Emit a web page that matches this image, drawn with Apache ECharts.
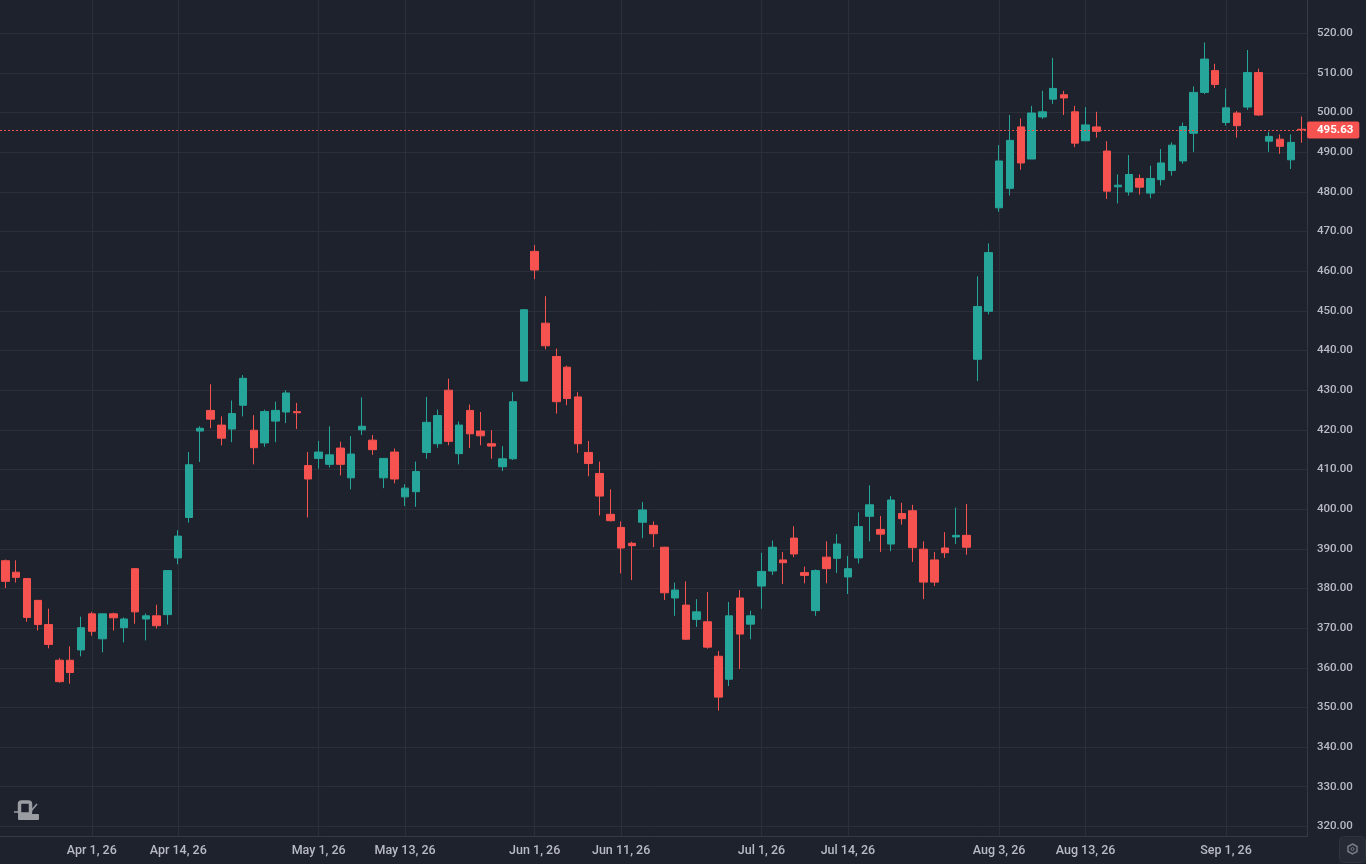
<!DOCTYPE html>
<html>
<head>
<meta charset="utf-8">
<title>Candles</title>
<style>
  html, body { margin: 0; padding: 0; background: #1e222d; }
  #chart { width: 1366px; height: 864px; }
</style>
<script src="https://cdn.jsdelivr.net/npm/echarts@6/dist/echarts.min.js"></script>
</head>
<body>
<div id="chart"></div>
<script>
// trading days, left to right
const dates = [
  'Mar 20, 26', 'Mar 23, 26', 'Mar 24, 26', 'Mar 25, 26', 'Mar 26, 26', 'Mar 27, 26', 'Mar 30, 26', 'Mar 31, 26',
  'Apr 1, 26', 'Apr 2, 26', 'Apr 6, 26', 'Apr 7, 26', 'Apr 8, 26', 'Apr 9, 26', 'Apr 10, 26', 'Apr 13, 26',
  'Apr 14, 26', 'Apr 15, 26', 'Apr 16, 26', 'Apr 17, 26', 'Apr 20, 26', 'Apr 21, 26', 'Apr 22, 26', 'Apr 23, 26',
  'Apr 24, 26', 'Apr 27, 26', 'Apr 28, 26', 'Apr 29, 26', 'Apr 30, 26', 'May 1, 26', 'May 4, 26', 'May 5, 26',
  'May 6, 26', 'May 7, 26', 'May 8, 26', 'May 11, 26', 'May 12, 26', 'May 13, 26', 'May 14, 26', 'May 15, 26',
  'May 18, 26', 'May 19, 26', 'May 20, 26', 'May 21, 26', 'May 22, 26', 'May 26, 26', 'May 27, 26', 'May 28, 26',
  'May 29, 26', 'Jun 1, 26', 'Jun 2, 26', 'Jun 3, 26', 'Jun 4, 26', 'Jun 5, 26', 'Jun 8, 26', 'Jun 9, 26',
  'Jun 10, 26', 'Jun 11, 26', 'Jun 12, 26', 'Jun 15, 26', 'Jun 16, 26', 'Jun 17, 26', 'Jun 18, 26', 'Jun 22, 26',
  'Jun 23, 26', 'Jun 24, 26', 'Jun 25, 26', 'Jun 26, 26', 'Jun 29, 26', 'Jun 30, 26', 'Jul 1, 26', 'Jul 2, 26',
  'Jul 6, 26', 'Jul 7, 26', 'Jul 8, 26', 'Jul 9, 26', 'Jul 10, 26', 'Jul 13, 26', 'Jul 14, 26', 'Jul 15, 26',
  'Jul 16, 26', 'Jul 17, 26', 'Jul 20, 26', 'Jul 21, 26', 'Jul 22, 26', 'Jul 23, 26', 'Jul 24, 26', 'Jul 27, 26',
  'Jul 28, 26', 'Jul 29, 26', 'Jul 30, 26', 'Jul 31, 26', 'Aug 3, 26', 'Aug 4, 26', 'Aug 5, 26', 'Aug 6, 26',
  'Aug 7, 26', 'Aug 10, 26', 'Aug 11, 26', 'Aug 12, 26', 'Aug 13, 26', 'Aug 14, 26', 'Aug 17, 26', 'Aug 18, 26',
  'Aug 19, 26', 'Aug 20, 26', 'Aug 21, 26', 'Aug 24, 26', 'Aug 25, 26', 'Aug 26, 26', 'Aug 27, 26', 'Aug 28, 26',
  'Aug 31, 26', 'Sep 1, 26', 'Sep 2, 26', 'Sep 3, 26', 'Sep 4, 26', 'Sep 8, 26', 'Sep 9, 26', 'Sep 10, 26',
  'Sep 11, 26'
];

const opens = [
  387.0, 384.1, 382.5, 377.0, 370.9, 361.9, 361.9, 364.5, 373.6, 367.3, 373.6, 370.1, 385.0, 372.3, 373.1, 373.4,
  387.7, 397.9, 419.7, 424.9, 421.2, 420.2, 426.2, 419.9, 416.7, 422.2, 424.5, 424.6, 411.0, 412.8, 411.3, 415.4,
  407.9, 420.0, 417.4, 407.9, 414.4, 403.1, 404.4, 414.3, 416.5, 430.0, 414.0, 424.9, 419.7, 416.5, 410.7, 412.7,
  432.3, 465.0, 446.9, 438.5, 435.8, 428.3, 414.3, 409.0, 398.7, 395.4, 391.4, 396.7, 395.9, 390.4, 377.6, 375.8,
  372.2, 371.6, 362.9, 357.1, 377.6, 371.0, 380.6, 384.4, 387.2, 392.7, 384.0, 374.4, 387.9, 387.6, 382.9, 387.7,
  398.2, 394.9, 391.2, 398.9, 399.6, 389.9, 387.2, 390.2, 393.0, 393.4, 437.8, 449.9, 476.0, 480.9, 496.4, 488.3,
  498.9, 503.4, 504.5, 500.2, 492.9, 496.4, 490.3, 481.3, 480.0, 483.4, 479.7, 483.1, 485.4, 487.8, 494.8, 505.1,
  510.6, 497.5, 499.9, 501.4, 510.1, 492.8, 493.3, 488.1, 495.8
];

const closes = [
  381.8, 382.8, 372.7, 370.9, 365.9, 356.5, 358.8, 370.1, 369.2, 373.6, 372.6, 372.3, 374.1, 373.1, 370.6, 384.5,
  393.2, 411.2, 420.4, 422.7, 417.9, 424.1, 433.0, 415.5, 424.6, 424.9, 429.3, 424.3, 407.6, 414.4, 413.7, 411.3,
  413.9, 420.9, 415.0, 412.8, 407.6, 405.3, 409.5, 421.9, 423.6, 417.1, 421.2, 419.0, 418.5, 415.9, 412.7, 427.1,
  450.3, 460.3, 441.2, 427.1, 427.9, 416.5, 411.5, 403.3, 397.1, 390.2, 390.8, 399.8, 393.8, 378.9, 379.6, 367.2,
  374.1, 365.2, 352.6, 373.1, 368.5, 373.1, 384.3, 390.4, 386.5, 388.7, 383.3, 384.5, 385.0, 391.2, 385.0, 395.6,
  401.1, 393.7, 402.3, 397.6, 390.3, 381.6, 381.6, 389.0, 393.4, 390.4, 451.1, 464.7, 487.8, 493.0, 487.3, 499.9,
  500.2, 506.1, 503.7, 492.3, 496.9, 495.3, 480.2, 481.7, 484.4, 481.2, 483.4, 487.3, 491.8, 496.5, 505.1, 513.5,
  507.1, 501.2, 496.7, 510.1, 499.4, 494.0, 491.5, 492.5, 495.63
];

const lows = [
  380.1, 381.5, 371.6, 369.4, 364.9, 356.2, 356.0, 362.9, 368.1, 363.9, 369.4, 366.4, 371.1, 366.9, 369.9, 370.9,
  386.1, 396.6, 411.9, 420.4, 416.1, 416.9, 423.4, 411.3, 415.7, 416.9, 421.7, 420.2, 397.9, 410.2, 410.5, 408.5,
  405.0, 418.7, 413.7, 405.3, 406.5, 400.8, 400.6, 412.7, 415.5, 416.1, 411.3, 415.4, 416.1, 412.7, 409.6, 412.4,
  432.3, 458.0, 440.3, 424.1, 426.2, 414.2, 408.3, 398.4, 396.9, 383.8, 382.1, 392.7, 390.4, 377.1, 373.1, 367.0,
  370.3, 364.8, 349.2, 355.4, 359.7, 367.2, 374.9, 383.4, 381.1, 387.9, 381.3, 373.1, 381.3, 383.9, 378.6, 386.3,
  391.9, 389.2, 389.4, 396.1, 386.7, 377.3, 380.6, 387.7, 391.2, 388.5, 432.3, 449.1, 475.0, 479.1, 485.6, 488.3,
  498.4, 502.2, 499.4, 491.3, 492.9, 493.7, 478.2, 477.1, 479.1, 479.3, 478.4, 481.6, 484.1, 487.1, 490.1, 504.7,
  506.2, 496.7, 493.7, 500.7, 499.2, 490.1, 489.6, 485.8, 492.4
];

const highs = [
  387.3, 387.1, 382.6, 377.1, 374.9, 362.4, 365.4, 372.9, 374.1, 373.7, 373.9, 372.7, 385.1, 373.7, 375.9, 384.6,
  394.7, 414.4, 420.9, 431.5, 423.4, 427.4, 433.8, 423.7, 425.1, 427.1, 430.0, 426.8, 414.4, 417.2, 420.9, 417.0,
  418.4, 428.2, 418.7, 412.9, 415.3, 406.3, 412.0, 428.3, 425.1, 432.9, 422.1, 426.4, 424.5, 419.9, 415.9, 429.5,
  450.4, 466.6, 453.7, 440.5, 436.2, 429.5, 417.2, 412.0, 405.0, 396.9, 391.8, 401.8, 396.9, 390.5, 381.5, 381.8,
  377.3, 379.1, 364.2, 376.6, 379.6, 374.4, 389.0, 392.1, 389.2, 395.7, 385.5, 384.8, 391.9, 393.7, 388.2, 399.2,
  406.0, 398.3, 403.3, 401.6, 401.1, 391.9, 389.2, 394.2, 400.4, 401.3, 458.7, 467.0, 491.8, 499.4, 498.5, 501.7,
  505.5, 513.8, 505.5, 501.7, 501.4, 500.2, 492.8, 484.4, 489.3, 484.4, 486.6, 490.8, 492.5, 497.5, 506.6, 517.7,
  512.3, 506.1, 500.4, 515.8, 511.1, 495.2, 494.5, 494.5, 499.0
];

const dateTicks = ['Apr 1, 26', 'Apr 14, 26', 'May 1, 26', 'May 13, 26', 'Jun 1, 26', 'Jun 11, 26',
  'Jul 1, 26', 'Jul 14, 26', 'Aug 3, 26', 'Aug 13, 26', 'Sep 1, 26'];
const priceTicks = [320, 330, 340, 350, 360, 370, 380, 390, 400, 410, 420, 430, 440, 450, 460, 470,
  480, 490, 500, 510, 520];
const lastPrice = 495.63;

const upColor = '#26a69a';
const downColor = '#f6524f';
const gridColor = '#2b2f3a';
const axisColor = '#363a45';
const labelColor = '#b8bbc4';
const iconColor = '#9a9da2';

const candles = dates.map((d, i) => [opens[i], closes[i], lows[i], highs[i]]);
const isDateTick = (index, value) => dateTicks.includes(value);

const myChart = echarts.init(document.getElementById('chart'));

const option = {
  animation: false,
  backgroundColor: '#1e222d',
  textStyle: { fontFamily: 'Roboto' },
  grid: { left: 0, right: 59, top: 0, bottom: 27.5 },
  xAxis: {
    type: 'category',
    data: dates,
    boundaryGap: true,
    axisLine: { lineStyle: { color: axisColor } },
    axisTick: { show: false },
    axisLabel: {
      interval: isDateTick,
      color: labelColor,
      fontSize: 12.5,
      fontWeight: 500,
      fontFamily: 'Roboto',
      margin: 8,
      hideOverlap: false
    },
    splitLine: {
      show: true,
      interval: isDateTick,
      alignWithLabel: true,
      lineStyle: { color: gridColor, width: 1 }
    }
  },
  yAxis: {
    type: 'value',
    position: 'right',
    min: 317.45,
    max: 528.4,
    axisLine: { show: true, lineStyle: { color: axisColor } },
    axisTick: { show: false, customValues: priceTicks },
    axisLabel: {
      customValues: priceTicks,
      color: labelColor,
      fontSize: 11.5,
      fontWeight: 500,
      fontFamily: 'Roboto',
      margin: 10,
      padding: [2, 0, 0, 0],
      formatter: v => v.toFixed(2)
    },
    splitLine: {
      lineStyle: { color: gridColor, width: 1 }
    }
  },
  series: [{
    type: 'candlestick',
    data: candles,
    barWidth: 8,
    itemStyle: {
      color: upColor,
      color0: downColor,
      borderColor: upColor,
      borderColor0: downColor,
      borderWidth: 1
    },
    markLine: {
      silent: true,
      symbol: 'none',
      precision: 2,
      data: [{ yAxis: lastPrice }],
      lineStyle: { color: downColor, type: [2, 2], width: 1 },
      label: {
        position: 'end',
        distance: 0,
        formatter: () => lastPrice.toFixed(2),
        color: '#ffffff',
        fontFamily: 'Roboto',
        fontSize: 11.5,
        fontWeight: 700,
        backgroundColor: downColor,
        borderRadius: 2,
        padding: [3, 6, 2, 10],
        align: 'left'
      }
    }
  }],
  graphic: [
    // watermark, bottom left
    { type: 'rect', shape: { x: 19.5, y: 802, width: 11, height: 12, r: 2 }, style: { fill: 'none', stroke: iconColor, lineWidth: 3.5 } },
    { type: 'rect', shape: { x: 18, y: 814, width: 21, height: 6, r: 1 }, style: { fill: iconColor } },
    { type: 'line', shape: { x1: 14, y1: 812, x2: 20, y2: 812 }, style: { stroke: iconColor, lineWidth: 1.5 } },
    { type: 'line', shape: { x1: 31, y1: 811, x2: 37, y2: 804 }, style: { stroke: iconColor, lineWidth: 1.5 } },
    // settings button, bottom right
    { type: 'rect', shape: { x: 1339.5, y: 836.5, width: 26, height: 26, r: 4 }, style: { fill: '#262a35', stroke: '#2f333e', lineWidth: 1 } },
    { type: 'polygon', shape: { points: [[1352.5, 844], [1357, 846.5], [1357, 851.5], [1352.5, 854], [1348, 851.5], [1348, 846.5]] }, style: { fill: 'none', stroke: '#787c87', lineWidth: 1.5 } },
    { type: 'circle', shape: { cx: 1352.5, cy: 849, r: 1.5 }, style: { fill: 'none', stroke: '#787c87', lineWidth: 1 } }
  ]
};

// 使用刚指定的配置项和数据显示图表。
myChart.setOption(option);
</script>
</body>
</html>
